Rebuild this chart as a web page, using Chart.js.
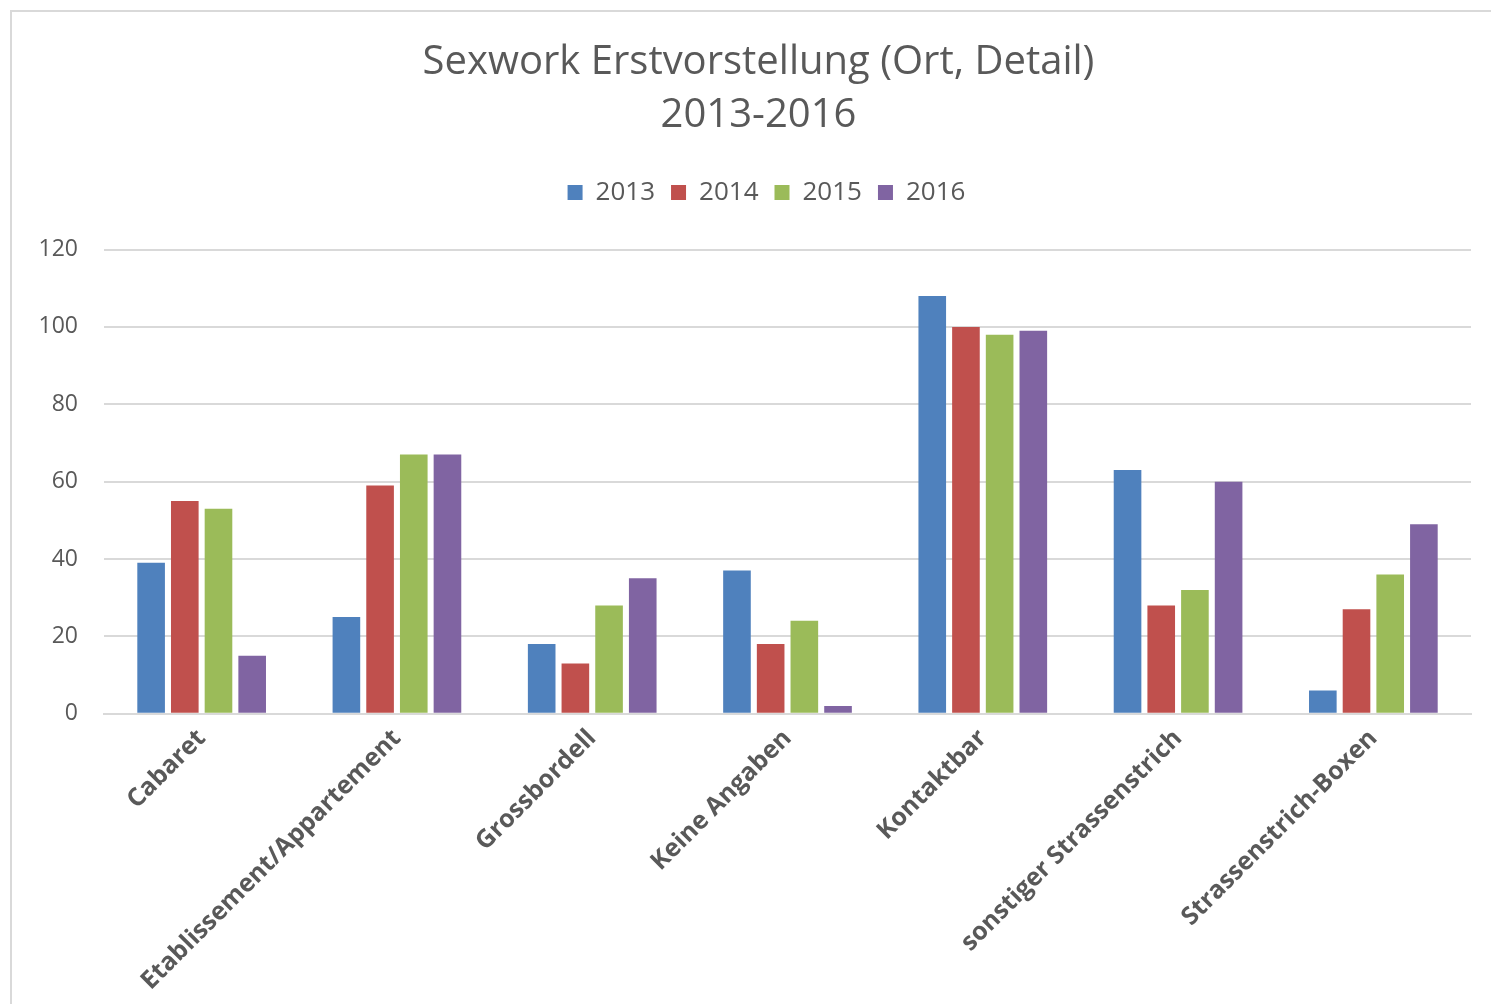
<!DOCTYPE html>
<html>
<head>
<meta charset="utf-8">
<script src="https://cdn.jsdelivr.net/npm/chart.js@4/dist/chart.umd.min.js"></script>
<style>
  html, body { margin: 0; padding: 0; background: #fff; }
  #frame {
    position: absolute; left: 10px; top: 10px; width: 1481px; height: 994px;
    border-left: 2px solid #d9d9d9; border-top: 2px solid #d9d9d9; box-sizing: border-box;
  }
  #wrap { position: absolute; left: 0; top: 0; width: 1479px; height: 992px; }
</style>
</head>
<body>
<div id="frame"><div id="wrap"><canvas id="c"></canvas></div></div>
<script>
'use strict';

var categories = ['Cabaret', 'Etablissement/Appartement', 'Grossbordell', 'Keine Angaben',
  'Kontaktbar', 'sonstiger Strassenstrich', 'Strassenstrich-Boxen'];
var years = ['2013', '2014', '2015', '2016'];
var values2013 = [39, 25, 18, 37, 108, 63, 6];
var values2014 = [55, 59, 13, 18, 100, 28, 27];
var values2015 = [53, 67, 28, 24, 98, 32, 36];
var values2016 = [15, 67, 35, 2, 99, 60, 49];
var yTicks = [0, 20, 40, 60, 80, 100, 120];

var colors = ['#4f81bd', '#c0504d', '#9bbb59', '#8064a2'];
var textColor = '#595959';
var gridColor = '#d9d9d9';
var fontFamily = '"Open Sans", Lato, sans-serif';

function makeDataset(label, data, color) {
  return {
    label: label,
    data: data,
    backgroundColor: color,
    borderWidth: 0,
    categoryPercentage: 0.69,
    barPercentage: 0.82
  };
}

var seriesList = [values2013, values2014, values2015, values2016];

// extra room below the legend, and title/legend nudged to the right
var headerTweak = {
  id: 'headerTweak',
  beforeInit: function (chart) {
    var origFit = chart.legend.fit;
    chart.legend.fit = function () {
      origFit.call(this);
      this.height += 34;
    };
  },
  afterLayout: function (chart) {
    if (chart.titleBlock) {
      chart.titleBlock.left += 17;
      chart.titleBlock.right += 17;
    }
    if (chart.legend) {
      chart.legend.left += 25;
      chart.legend.right += 25;
      if (chart.legend.adjustHitBoxes) chart.legend.adjustHitBoxes();
    }
  }
};

new Chart(document.getElementById('c'), {
  type: 'bar',
  data: {
    labels: categories,
    datasets: years.map(function (y, i) { return makeDataset(y, seriesList[i], colors[i]); })
  },
  plugins: [headerTweak],
  options: {
    responsive: true,
    maintainAspectRatio: false,
    animation: false,
    layout: { padding: { left: 0, right: 20, top: 24, bottom: 6 } },
    plugins: {
      title: {
        display: true,
        text: ['Sexwork Erstvorstellung (Ort, Detail)', '2013-2016'],
        color: textColor,
        font: { family: fontFamily, size: 40, weight: 'normal', lineHeight: 1.32 },
        padding: { top: 0, bottom: 22 }
      },
      legend: {
        position: 'top',
        labels: {
          color: textColor,
          font: { family: fontFamily, size: 26 },
          boxWidth: 15,
          boxHeight: 15,
          padding: 16
        }
      },
      tooltip: { enabled: false }
    },
    scales: {
      x: {
        grid: { display: false },
        border: { display: true, color: gridColor, width: 2 },
        ticks: {
          color: textColor,
          font: { family: fontFamily, size: 25, weight: 'bold' },
          maxRotation: 45,
          minRotation: 45,
          padding: 2
        }
      },
      y: {
        min: 0,
        max: 120,
        afterBuildTicks: function (scale) {
          scale.ticks = yTicks.map(function (v) { return { value: v }; });
        },
        afterFit: function (scale) { scale.width = 92; },
        grid: { color: gridColor, lineWidth: 2, drawTicks: false },
        border: { display: false },
        ticks: {
          color: textColor,
          font: { family: fontFamily, size: 23 },
          padding: 26
        }
      }
    }
  }
});
</script>
</body>
</html>
